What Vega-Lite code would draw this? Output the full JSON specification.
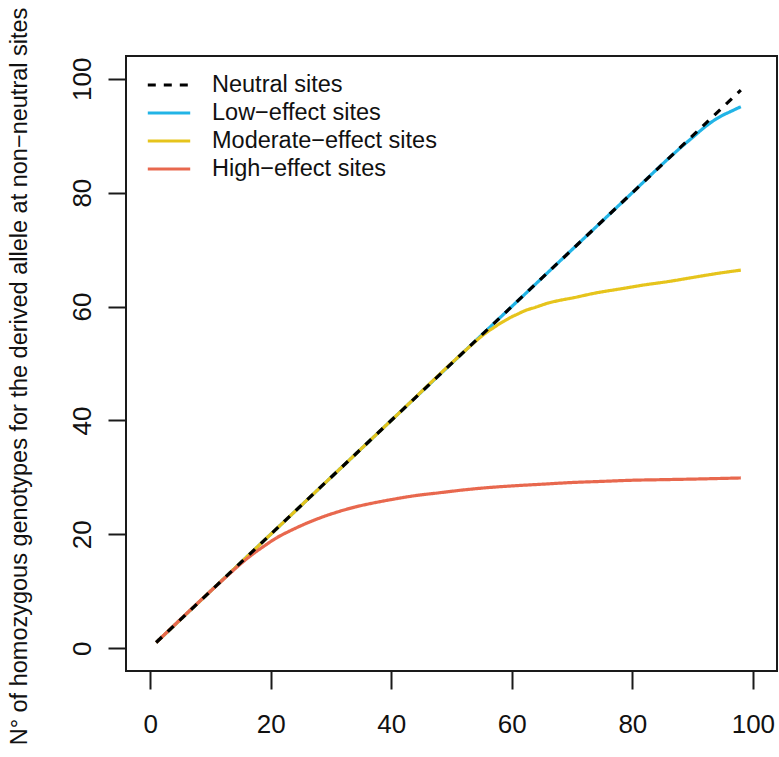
{
  "$schema": "https://vega.github.io/schema/vega-lite/v6.json",
  "width": 651,
  "height": 615,
  "autosize": "none",
  "padding": {"left": 126, "top": 56, "right": 2, "bottom": 86},
  "background": "white",
  "config": {
    "view": {"stroke": "#1a1a1a", "strokeWidth": 2},
    "font": "Liberation Sans",
    "axis": {"grid": false, "domain": false, "tickColor": "#1a1a1a", "tickWidth": 2, "tickSize": 18, "labelFont": "Liberation Sans", "labelFontSize": 26, "labelColor": "#111", "titleFont": "Liberation Sans", "titleFontWeight": "normal", "titleColor": "#111"}
  },
  "data": {"values": [
    {"s": "Neutral sites", "x": 1, "y": 1},
    {"s": "Neutral sites", "x": 98, "y": 98},
    {"s": "Low−effect sites", "x": 1, "y": 1},
    {"s": "Low−effect sites", "x": 20, "y": 20},
    {"s": "Low−effect sites", "x": 40, "y": 40},
    {"s": "Low−effect sites", "x": 60, "y": 60},
    {"s": "Low−effect sites", "x": 80, "y": 80},
    {"s": "Low−effect sites", "x": 86, "y": 86},
    {"s": "Low−effect sites", "x": 88, "y": 87.9},
    {"s": "Low−effect sites", "x": 90, "y": 89.7},
    {"s": "Low−effect sites", "x": 92, "y": 91.5},
    {"s": "Low−effect sites", "x": 93, "y": 92.3},
    {"s": "Low−effect sites", "x": 94, "y": 93.0},
    {"s": "Low−effect sites", "x": 95, "y": 93.6},
    {"s": "Low−effect sites", "x": 96, "y": 94.1},
    {"s": "Low−effect sites", "x": 97, "y": 94.6},
    {"s": "Low−effect sites", "x": 98, "y": 95.1},
    {"s": "Moderate−effect sites", "x": 1, "y": 1},
    {"s": "Moderate−effect sites", "x": 20, "y": 20},
    {"s": "Moderate−effect sites", "x": 40, "y": 40},
    {"s": "Moderate−effect sites", "x": 52, "y": 52},
    {"s": "Moderate−effect sites", "x": 54, "y": 53.9},
    {"s": "Moderate−effect sites", "x": 55, "y": 54.8},
    {"s": "Moderate−effect sites", "x": 56, "y": 55.6},
    {"s": "Moderate−effect sites", "x": 57, "y": 56.3},
    {"s": "Moderate−effect sites", "x": 58, "y": 57.0},
    {"s": "Moderate−effect sites", "x": 59, "y": 57.6},
    {"s": "Moderate−effect sites", "x": 60, "y": 58.2},
    {"s": "Moderate−effect sites", "x": 61, "y": 58.7},
    {"s": "Moderate−effect sites", "x": 62, "y": 59.2},
    {"s": "Moderate−effect sites", "x": 64, "y": 59.9},
    {"s": "Moderate−effect sites", "x": 66, "y": 60.6},
    {"s": "Moderate−effect sites", "x": 68, "y": 61.1},
    {"s": "Moderate−effect sites", "x": 70, "y": 61.5},
    {"s": "Moderate−effect sites", "x": 74, "y": 62.4},
    {"s": "Moderate−effect sites", "x": 78, "y": 63.1},
    {"s": "Moderate−effect sites", "x": 82, "y": 63.8},
    {"s": "Moderate−effect sites", "x": 86, "y": 64.4},
    {"s": "Moderate−effect sites", "x": 90, "y": 65.1},
    {"s": "Moderate−effect sites", "x": 94, "y": 65.8},
    {"s": "Moderate−effect sites", "x": 98, "y": 66.4},
    {"s": "High−effect sites", "x": 1, "y": 1},
    {"s": "High−effect sites", "x": 10, "y": 10},
    {"s": "High−effect sites", "x": 13, "y": 12.9},
    {"s": "High−effect sites", "x": 15, "y": 14.8},
    {"s": "High−effect sites", "x": 17, "y": 16.5},
    {"s": "High−effect sites", "x": 19, "y": 18.0},
    {"s": "High−effect sites", "x": 21, "y": 19.4},
    {"s": "High−effect sites", "x": 23, "y": 20.5},
    {"s": "High−effect sites", "x": 25, "y": 21.5},
    {"s": "High−effect sites", "x": 27, "y": 22.4},
    {"s": "High−effect sites", "x": 29, "y": 23.2},
    {"s": "High−effect sites", "x": 31, "y": 23.9},
    {"s": "High−effect sites", "x": 34, "y": 24.8},
    {"s": "High−effect sites", "x": 37, "y": 25.5},
    {"s": "High−effect sites", "x": 40, "y": 26.1},
    {"s": "High−effect sites", "x": 44, "y": 26.8},
    {"s": "High−effect sites", "x": 48, "y": 27.3},
    {"s": "High−effect sites", "x": 52, "y": 27.8},
    {"s": "High−effect sites", "x": 56, "y": 28.2},
    {"s": "High−effect sites", "x": 60, "y": 28.5},
    {"s": "High−effect sites", "x": 65, "y": 28.8},
    {"s": "High−effect sites", "x": 70, "y": 29.1},
    {"s": "High−effect sites", "x": 75, "y": 29.3},
    {"s": "High−effect sites", "x": 80, "y": 29.5},
    {"s": "High−effect sites", "x": 85, "y": 29.6},
    {"s": "High−effect sites", "x": 90, "y": 29.7},
    {"s": "High−effect sites", "x": 98, "y": 29.9}
  ]},
  "encoding": {
    "x": {"field": "x", "type": "quantitative", "scale": {"domain": [-4, 104], "nice": false, "zero": false},
          "axis": {"title": null, "values": [0, 20, 40, 60, 80, 100], "labelPadding": 22, "labelFlush": false}},
    "y": {"field": "y", "type": "quantitative", "scale": {"domain": [-4, 104], "nice": false, "zero": false},
          "axis": {"title": "N° of homozygous genotypes for the derived allele at non−neutral sites", "titleFontSize": 23.5, "titlePadding": 38, "titleY": 320,
                   "values": [0, 20, 40, 60, 80, 100], "labelAngle": 270, "labelAlign": "center", "labelBaseline": "bottom", "labelPadding": 13, "labelFlush": false}},
    "color": {"field": "s", "type": "nominal",
      "scale": {"domain": ["Neutral sites", "Low−effect sites", "Moderate−effect sites", "High−effect sites"], "range": ["#000000", "#22B4E6", "#E6C41C", "#E8684E"]},
      "legend": {"title": null, "orient": "none", "legendX": 20, "legendY": 15, "symbolType": "stroke", "symbolSize": 1800, "symbolStrokeWidth": 3, "clipHeight": 28,
                 "labelFontSize": 23.5, "labelFont": "Liberation Sans", "labelColor": "#111", "labelOffset": 20, "rowPadding": 0, "labelLimit": 400}},
    "strokeDash": {"field": "s", "type": "nominal",
      "scale": {"domain": ["Neutral sites", "Low−effect sites", "Moderate−effect sites", "High−effect sites"], "range": [[8, 8], [1, 0], [1, 0], [1, 0]]},
      "legend": {"title": null, "orient": "none", "legendX": 20, "legendY": 15, "symbolType": "stroke", "symbolSize": 1800, "symbolStrokeWidth": 3, "clipHeight": 28,
                 "labelFontSize": 23.5, "labelFont": "Liberation Sans", "labelColor": "#111", "labelOffset": 20, "rowPadding": 0, "labelLimit": 400}}
  },
  "layer": [
    {"transform": [{"filter": "datum.s === 'Low−effect sites'"}], "mark": {"type": "line", "strokeWidth": 3.2, "interpolate": "monotone"}},
    {"transform": [{"filter": "datum.s === 'Moderate−effect sites'"}], "mark": {"type": "line", "strokeWidth": 3.2, "interpolate": "monotone"}},
    {"transform": [{"filter": "datum.s === 'High−effect sites'"}], "mark": {"type": "line", "strokeWidth": 3.2, "interpolate": "monotone"}},
    {"transform": [{"filter": "datum.s === 'Neutral sites'"}], "mark": {"type": "line", "strokeWidth": 3.2}}
  ]
}
